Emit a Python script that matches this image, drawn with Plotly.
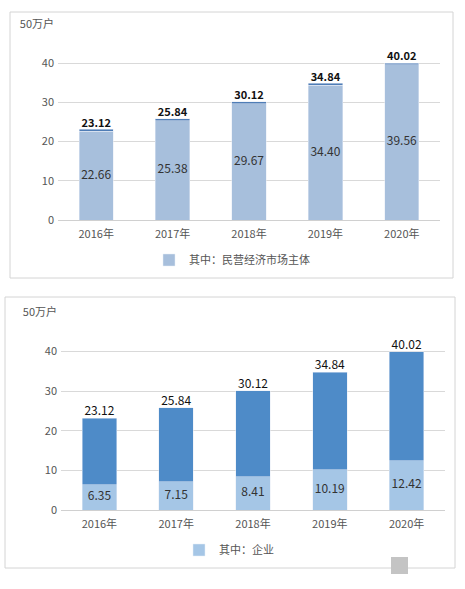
import plotly.graph_objects as go

# 数据
years = ["2016年", "2017年", "2018年", "2019年", "2020年"]
total = [23.12, 25.84, 30.12, 34.84, 40.02]
private = [22.66, 25.38, 29.67, 34.40, 39.56]
enterprise = [6.35, 7.15, 8.41, 10.19, 12.42]
y_ticks = [0, 10, 20, 30, 40, 50]
y_ticktext = ["0", "10", "20", "30", "40", "50万户"]

W, H = 465, 589
FONT = "Noto Sans CJK SC"


def px_x(v):
    return v / W


def px_y(v):
    return 1 - v / H


fig = go.Figure()

# 上图：民营经济市场主体
rest_top = [round(t - p, 2) for t, p in zip(total, private)]
fig.add_trace(go.Bar(x=years, y=private, marker_color="#A7BFDC", name="其中：民营经济市场主体",
                     xaxis="x", yaxis="y", legend="legend", hoverinfo="skip"))
fig.add_trace(go.Bar(x=years, y=rest_top, marker_color="#4F7DB6", showlegend=False,
                     xaxis="x", yaxis="y", hoverinfo="skip"))
fig.add_trace(go.Scatter(x=years, y=[p / 2 for p in private], mode="text",
                         text=[f"{p:.2f}" for p in private], showlegend=False,
                         textfont=dict(size=12, color="#333333", family=FONT),
                         xaxis="x", yaxis="y", hoverinfo="skip"))
fig.add_trace(go.Scatter(x=years, y=total, mode="text", textposition="top center",
                         text=[f"<b>{t:.2f}</b>" for t in total], showlegend=False,
                         textfont=dict(size=11, color="#111111", family=FONT),
                         xaxis="x", yaxis="y", hoverinfo="skip"))

# 下图：企业
rest_bot = [round(t - e, 2) for t, e in zip(total, enterprise)]
fig.add_trace(go.Bar(x=years, y=enterprise, marker_color="#A5C6E6", name="其中：企业",
                     xaxis="x2", yaxis="y2", legend="legend2", hoverinfo="skip"))
fig.add_trace(go.Bar(x=years, y=rest_bot, marker_color="#4E8BC8", showlegend=False,
                     xaxis="x2", yaxis="y2", hoverinfo="skip"))
fig.add_trace(go.Scatter(x=years, y=[e / 2 for e in enterprise], mode="text",
                         text=[f"{e:.2f}" for e in enterprise], showlegend=False,
                         textfont=dict(size=12, color="#333333", family=FONT),
                         xaxis="x2", yaxis="y2", hoverinfo="skip"))
fig.add_trace(go.Scatter(x=years, y=total, mode="text", textposition="top center",
                         text=[f"{t:.2f}" for t in total], showlegend=False,
                         textfont=dict(size=12, color="#111111", family=FONT),
                         xaxis="x2", yaxis="y2", hoverinfo="skip"))

yaxis_common = dict(range=[0, 50], tickvals=y_ticks, ticktext=y_ticktext,
                    showgrid=True, gridcolor="#D9D9D9", gridwidth=1,
                    zeroline=True, zerolinecolor="#D0D0D0", zerolinewidth=1,
                    showline=False, ticks="", fixedrange=True, automargin=False,
                    ticklabelstandoff=3,
                    tickfont=dict(size=11, color="#555555", family=FONT))
xaxis_common = dict(showgrid=False, showline=False, ticks="", fixedrange=True,
                    automargin=False, ticklabelstandoff=6,
                    tickfont=dict(size=11, color="#555555", family=FONT))

fig.update_layout(
    width=W, height=H,
    margin=dict(l=0, r=0, t=0, b=0, autoexpand=False),
    paper_bgcolor="white", plot_bgcolor="white",
    barmode="stack", bargap=0.55,
    font=dict(family=FONT, size=11, color="#555555"),
    xaxis=dict(domain=[px_x(58), px_x(440)], anchor="y", **xaxis_common),
    yaxis=dict(domain=[px_y(220), px_y(24)], anchor="x", **yaxis_common),
    xaxis2=dict(domain=[px_x(61), px_x(445)], anchor="y2", **xaxis_common),
    yaxis2=dict(domain=[px_y(510), px_y(312)], anchor="x2", **yaxis_common),
    legend=dict(x=px_x(232), y=px_y(260), xanchor="center", yanchor="middle",
                orientation="h", font=dict(size=11, color="#555555", family=FONT),
                bgcolor="rgba(0,0,0,0)"),
    legend2=dict(x=px_x(229), y=px_y(550), xanchor="center", yanchor="middle",
                 orientation="h", font=dict(size=11, color="#555555", family=FONT),
                 bgcolor="rgba(0,0,0,0)"),
    shapes=[
        dict(type="rect", xref="paper", yref="paper",
             x0=px_x(10), x1=px_x(453), y0=px_y(278), y1=px_y(12),
             line=dict(color="#D4D4D4", width=1)),
        dict(type="rect", xref="paper", yref="paper",
             x0=px_x(5), x1=px_x(455), y0=px_y(568), y1=px_y(297),
             line=dict(color="#D4D4D4", width=1)),
        # 水印小方块
        dict(type="rect", xref="paper", yref="paper",
             x0=px_x(391), x1=px_x(408), y0=px_y(574), y1=px_y(557),
             fillcolor="#C4C4C4", line=dict(width=0)),
    ],
)

# 去掉页面默认边距，隐藏工具栏
fig.write_html("out.html", config={"displayModeBar": False},
               post_script="document.body.style.margin='0';")
